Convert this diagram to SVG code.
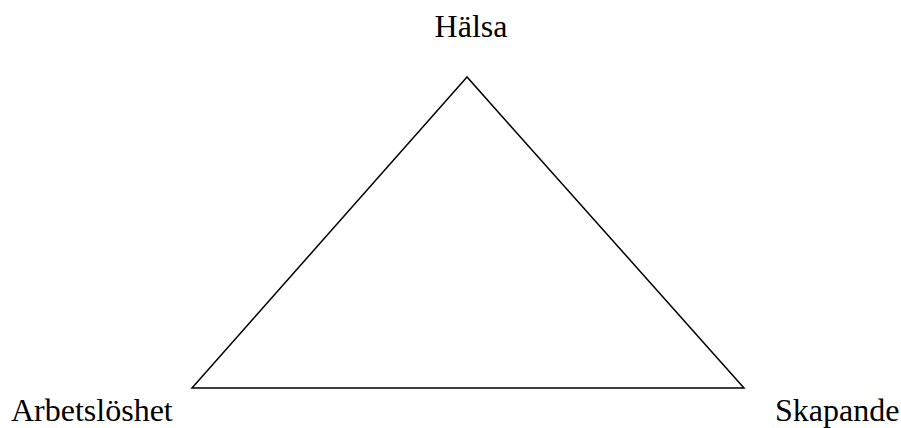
<svg xmlns="http://www.w3.org/2000/svg" width="901" height="428" viewBox="0 0 901 428">
<style>
.t{font-family:"Liberation Serif","Times New Roman",serif;font-size:32px;fill:#000}
.e{fill:none;stroke:#000;stroke-width:1.5}
</style>
<rect width="901" height="428" fill="#fff"/>
<g id="connectors">
<polygon class="e" points="467,77 192,388 744,388"/>
</g>
<g id="halsa"><text class="t" x="471" y="37" text-anchor="middle">Hälsa</text></g>
<g id="arbetsloshet"><text class="t" x="11" y="421">Arbetslöshet</text></g>
<g id="skapande"><text class="t" x="775" y="421">Skapande</text></g>
</svg>
